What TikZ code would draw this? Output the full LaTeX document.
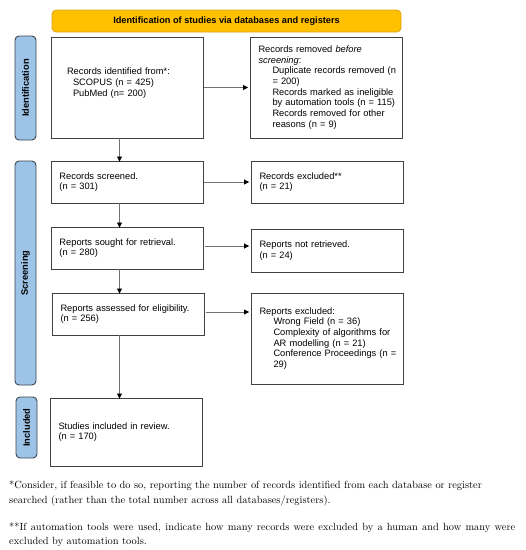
\documentclass[tikz,border=0pt]{standalone}
\usepackage{fontspec}
\setsansfont{Liberation Sans}
\usetikzlibrary{arrows.meta}
\definecolor{sidefill}{HTML}{9DC3E6}
\definecolor{sidedraw}{HTML}{3A4652}
\definecolor{headfill}{HTML}{FFC000}
\definecolor{headdraw}{HTML}{D9A21B}
\definecolor{boxdraw}{HTML}{404040}
\definecolor{arrowgray}{HTML}{707070}
\tikzset{
  box/.style={draw=boxdraw, line width=0.9pt, rectangle, align=left, anchor=center,
    inner xsep=8.5pt, inner ysep=0pt, text width=135pt,
    font=\sffamily\fontsize{9.3}{10.7}\selectfont},
  side/.style={draw=sidedraw, fill=sidefill, line width=0.9pt, rounded corners=4pt,
    rotate=90, minimum height=21pt, inner sep=0pt,
    font=\sffamily\bfseries\fontsize{9.3}{10.7}\selectfont},
  head/.style={draw=headdraw, fill=headfill, line width=0.7pt, rounded corners=4pt,
    minimum width=349pt, minimum height=22pt, inner sep=0pt,
    font=\sffamily\bfseries\fontsize{9.2}{10.7}\selectfont},
  flow/.style={draw=arrowgray, line width=0.8pt, -{Triangle[length=5pt,width=5pt,color=black]}},
  note/.style={anchor=base west, inner sep=0pt, font=\rmfamily\fontsize{10.4}{12}\selectfont}
}
\newcommand{\ind}[1]{\hspace*{#1pt}}
\newcommand{\bline}[1]{\mbox{#1}}
\begin{document}
\begin{tikzpicture}[x=1pt,y=-1pt]
\useasboundingbox (0,0) rectangle (526,550);
\fill[white] (0,0) rectangle (526,550);

\node[head] (hdr) at (226.5,21) {Identification of studies via databases and registers};

\node[side, minimum width=104pt] (sid) at (25.5,88) {Identification};
\node[side, minimum width=224pt] (sscr) at (25.5,273) {Screening};
\node[side, minimum width=61pt] (sinc) at (26.5,427.5) {Included};

\node[box, inner xsep=16pt, text width=120pt, minimum height=101pt] (idf) at (127,87.5)
  {Records identified from*:\\\ind{6}SCOPUS (n = 425)\\\ind{6}PubMed (n= 200)\\\mbox{}};
\node[box, minimum height=101pt] (rem) at (326,87.5)
  {\bline{Records removed \textit{before}}\\\bline{\textit{screening}:}\\
   \bline{\ind{14}Duplicate records removed (n}\\\bline{\ind{14}= 200)}\\
   \bline{\ind{14}Records marked as ineligible}\\\bline{\ind{14}by automation tools (n = 115)}\\
   \bline{\ind{14}Records removed for other}\\\bline{\ind{14}reasons (n = 9)}};

\node[box, minimum height=42pt] (scr) at (127,182) {Records screened.\\(n = 301)};
\node[box, minimum height=42pt] (exc) at (327,182) {Records excluded**\\(n = 21)};

\node[box, minimum height=42pt] (sou) at (127,248) {Reports sought for retrieval.\\(n = 280)};
\node[box, minimum height=43pt] (nre) at (327,250.5) {Reports not retrieved.\\(n = 24)};

\node[box, minimum height=42pt] (ass) at (128,314) {Reports assessed for eligibility.\\(n = 256)};
\node[box, minimum height=91pt] (rex) at (327,338.5)
  {\bline{Reports excluded:}\\
   \bline{\ind{14}Wrong Field (n = 36)}\\
   \bline{\ind{14}Complexity of algorithms for}\\\bline{\ind{14}AR modelling (n = 21)}\\
   \bline{\ind{14}Conference Proceedings (n =}\\\bline{\ind{14}29)}};

\node[box, minimum height=68pt] (stu) at (126,432) {Studies included in review.\\(n = 170)};

\coordinate (col) at (119.5,0);

\draw[flow] ([xshift=1pt]idf.east) -- ([xshift=-1.5pt]rem.west |- idf.east);
\draw[flow] ([xshift=1pt]scr.east) -- ([xshift=-1.5pt]exc.west |- scr.east);
\draw[flow] ([xshift=2pt,yshift=2pt]sou.east) -- ([xshift=-1.5pt,yshift=2pt]nre.west |- sou.east);
\draw[flow] ([xshift=2pt,yshift=2pt]ass.east) -- ([xshift=-1.5pt,yshift=2pt]rex.west |- ass.east);

\draw[flow] (idf.south -| col) -- ([yshift=-1pt]scr.north -| col);
\draw[flow] (scr.south -| col) -- ([yshift=-1pt]sou.north -| col);
\draw[flow] (sou.south -| col) -- ([yshift=-1pt]ass.north -| col);
\draw[flow] (ass.south -| col) -- ([yshift=-1pt]stu.north -| col);

\node[note] (n1) at (9,488.5) {*Consider, if feasible to do so, reporting the number of records identified from each database or register};
\node[note] (n2) at (9,503.5) {searched (rather than the total number across all databases/registers).};
\node[note] (n3) at (9,530.5) {\makebox[506pt][s]{**If automation tools were used, indicate how many records were excluded by a human and how many were}};
\node[note] (n4) at (9,544.5) {excluded by automation tools.};
\end{tikzpicture}
\end{document}
